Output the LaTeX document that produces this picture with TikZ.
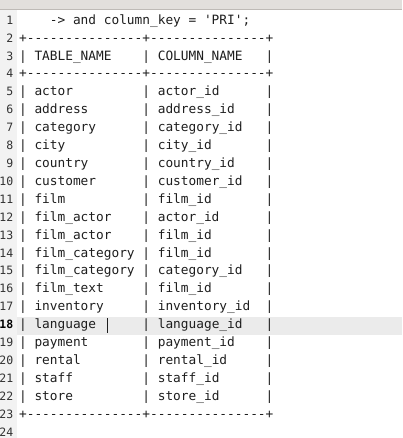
\documentclass[tikz,border=0pt]{standalone}
\usepackage{fontspec}
\newfontfamily\codefont{DejaVu Sans Mono}
\definecolor{barbg}{RGB}{226,223,220}
\definecolor{barline}{RGB}{190,186,182}
\definecolor{gutterbg}{RGB}{242,242,242}
\definecolor{curline}{RGB}{235,235,235}
\definecolor{codetext}{RGB}{30,30,30}
\definecolor{numtext}{RGB}{50,50,50}
\tikzset{
  src/.style={anchor=base west,inner sep=0pt,text=codetext,font=\codefont\fontsize{12.8}{15}\selectfont},
  num/.style={anchor=base east,inner sep=0pt,text=numtext,font=\codefont\fontsize{11.5}{13}\selectfont}
}
\begin{document}
\begin{tikzpicture}[x=1pt,y=-1pt]
\useasboundingbox (0,0) rectangle (402,438);
\fill[white] (0,0) rectangle (402,438);
\fill[gutterbg] (0,9) rectangle (16.5,438);
\fill[curline] (16.5,316.5) rectangle (402,334.5);
\fill[barbg] (0,0) rectangle (402,9);
\draw[barline] (0,9.5) -- (402,9.5);

\node[num] (n1) at (13.5,24.3) {1};
\node[num] (n2) at (13.5,42.2) {2};
\node[num] (n3) at (13.5,60.1) {3};
\node[num] (n4) at (13.5,78.0) {4};
\node[num] (n5) at (13.5,95.9) {5};
\node[num] (n6) at (13.5,113.8) {6};
\node[num] (n7) at (13.5,131.7) {7};
\node[num] (n8) at (13.5,149.6) {8};
\node[num] (n9) at (13.5,167.5) {9};
\node[num] (n10) at (13.5,185.4) {10};
\node[num] (n11) at (13.5,203.3) {11};
\node[num] (n12) at (13.5,221.2) {12};
\node[num] (n13) at (13.5,239.1) {13};
\node[num] (n14) at (13.5,257.0) {14};
\node[num] (n15) at (13.5,274.9) {15};
\node[num] (n16) at (13.5,292.8) {16};
\node[num] (n17) at (13.5,310.7) {17};
\node[num,font=\codefont\bfseries\fontsize{11.5}{13}\selectfont,text=black] (n18) at (13.5,328.6) {18};
\node[num] (n19) at (13.5,346.5) {19};
\node[num] (n20) at (13.5,364.4) {20};
\node[num] (n21) at (13.5,382.3) {21};
\node[num] (n22) at (13.5,400.2) {22};
\node[num] (n23) at (13.5,418.1) {23};
\node[num] (n24) at (13.5,436.0) {24};

\node[src] (t1) at (18.9,24.3) {~~~~->~and~column\_key~=~'PRI';};
\node[src] (t2) at (18.9,42.2) {+---------------+---------------+};
\node[src] (t3) at (18.9,60.1) {|~TABLE\_NAME~~~~|~COLUMN\_NAME~~~|};
\node[src] (t4) at (18.9,78.0) {+---------------+---------------+};
\node[src] (t5) at (18.9,95.9) {|~actor~~~~~~~~~|~actor\_id~~~~~~|};
\node[src] (t6) at (18.9,113.8) {|~address~~~~~~~|~address\_id~~~~|};
\node[src] (t7) at (18.9,131.7) {|~category~~~~~~|~category\_id~~~|};
\node[src] (t8) at (18.9,149.6) {|~city~~~~~~~~~~|~city\_id~~~~~~~|};
\node[src] (t9) at (18.9,167.5) {|~country~~~~~~~|~country\_id~~~~|};
\node[src] (t10) at (18.9,185.4) {|~customer~~~~~~|~customer\_id~~~|};
\node[src] (t11) at (18.9,203.3) {|~film~~~~~~~~~~|~film\_id~~~~~~~|};
\node[src] (t12) at (18.9,221.2) {|~film\_actor~~~~|~actor\_id~~~~~~|};
\node[src] (t13) at (18.9,239.1) {|~film\_actor~~~~|~film\_id~~~~~~~|};
\node[src] (t14) at (18.9,257.0) {|~film\_category~|~film\_id~~~~~~~|};
\node[src] (t15) at (18.9,274.9) {|~film\_category~|~category\_id~~~|};
\node[src] (t16) at (18.9,292.8) {|~film\_text~~~~~|~film\_id~~~~~~~|};
\node[src] (t17) at (18.9,310.7) {|~inventory~~~~~|~inventory\_id~~|};
\node[src] (t18) at (18.9,328.6) {|~language~~~~~~|~language\_id~~~|};
\node[src] (t19) at (18.9,346.5) {|~payment~~~~~~~|~payment\_id~~~~|};
\node[src] (t20) at (18.9,364.4) {|~rental~~~~~~~~|~rental\_id~~~~~|};
\node[src] (t21) at (18.9,382.3) {|~staff~~~~~~~~~|~staff\_id~~~~~~|};
\node[src] (t22) at (18.9,400.2) {|~store~~~~~~~~~|~store\_id~~~~~~|};
\node[src] (t23) at (18.9,418.1) {+---------------+---------------+};

\draw[line width=1pt,codetext] (107,318) -- (107,333);
\end{tikzpicture}
\end{document}
